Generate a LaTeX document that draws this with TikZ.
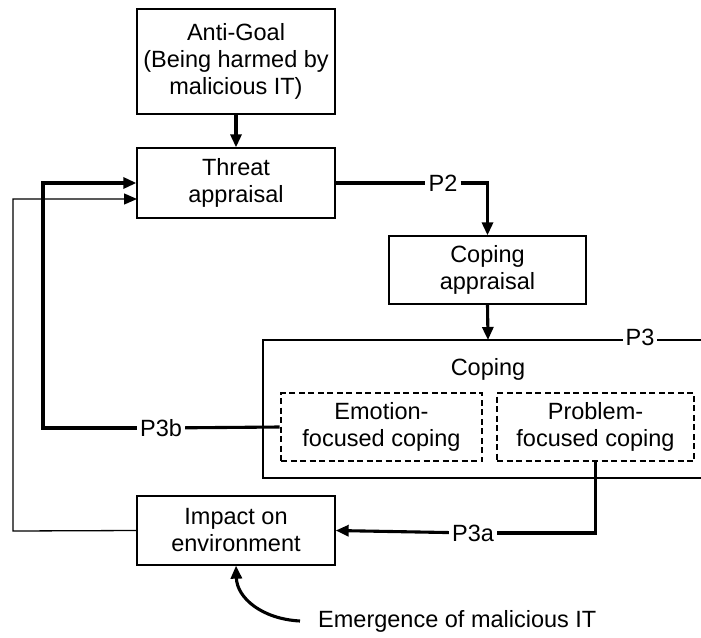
\documentclass[tikz,border=0pt]{standalone}
\usepackage{fontspec}
\setmainfont{Liberation Sans}
\usetikzlibrary{arrows.meta,calc}
\begin{document}
\begin{tikzpicture}[x=1pt,y=-1pt,
  every node/.style={font=\fontsize{23.5}{27}\selectfont},
  box/.style={draw, line width=1.3pt, align=center, inner sep=0pt},
  dbox/.style={draw, line width=2.6pt, dash pattern=on 6pt off 3.5pt, align=center, inner sep=0pt},
  lbl/.style={inner sep=3pt},
  thickarr/.style={line width=3.1pt, -{Triangle[length=13pt,width=11pt]}},
  thickline/.style={line width=3.1pt},
  thinarr/.style={line width=1.3pt, -{Triangle[length=13pt,width=11pt]}},
  frame/.style={line width=1.3pt}
]
\path[use as bounding box] (0,0) rectangle (701,637);
\clip (0,0) rectangle (701,637);

% boxes
\node[box, minimum width=198, minimum height=105] (anti) at (236,61.5) {Anti-Goal\\(Being harmed by\\malicious IT)};
\node[box, minimum width=198, minimum height=70] (threat) at (236,183) {Threat\\appraisal};
\node[box, minimum width=197, minimum height=68] (capp) at (487.5,270) {Coping\\appraisal};

% coping frame (open to the right edge)
\draw[frame] (712,340) -- (263,340) -- (263,478) -- (712,478);
\coordinate (copT) at (488,340);
\node[lbl, fill=white] (p3) at (640,337) {P3};
\node (coping) at (488,369) {Coping};

\node[dbox, minimum width=201, minimum height=68] (emo) at (381.5,427) {Emotion-\\focused coping};
\node[dbox, minimum width=197, minimum height=68] (prob) at (595.5,427) {Problem-\\focused coping};

\node[box, minimum width=198, minimum height=69] (impact) at (236,530.5) {Impact on\\environment};
\node[inner xsep=18pt, inner ysep=3pt, anchor=west] (emerg) at (300,621) {Emergence of malicious IT};

% labels on connectors
\node[lbl] (p2) at (443,183) {P2};
\node[lbl] (p3b) at (161,428) {P3b};
\node[lbl] (p3a) at (473,533) {P3a};

% helper coordinates
\coordinate (lthick) at (43,426);
\coordinate (lthin) at (13,531);
\coordinate (tin) at (137,199);

% connectors
\draw[thickarr] (anti.south) -- (threat.north);
\draw[thickline] (threat.east) -- (p2);
\draw[thickarr] (p2) -| (capp.north);
\draw[thickarr] (capp.south) -- (copT);
\draw[thickline] (emo.west) -- (p3b);
\draw[thickarr] (p3b) -| (lthick) |- (threat.west);
\draw[thinarr] (impact.west) -- (lthin) |- (tin);
\draw[thickline] (prob.south) |- (p3a);
\draw[thickarr] (p3a) -- (impact.east);
\draw[thickarr] (emerg.west) .. controls (262,619) and (237,598) .. (impact.south);
\end{tikzpicture}
\end{document}
